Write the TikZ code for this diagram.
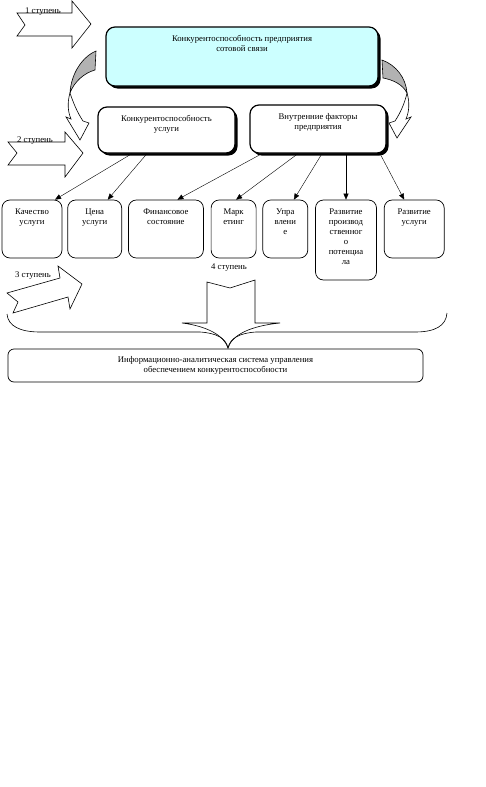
\documentclass[tikz,border=0pt]{standalone}
\usepackage{fontspec}
\setmainfont{Liberation Serif}
\usetikzlibrary{positioning, arrows.meta, shadows}

\definecolor{firmcyan}{HTML}{CCFFFF}

\begin{document}
\begin{tikzpicture}[
        x=1pt, y=-1pt,
        >={Triangle[length=6pt, width=5pt]},
        every node/.style={font=\fontsize{8.7}{10}\selectfont},
        boxtext/.style={align=center, anchor=north, inner sep=0pt, yshift=-9pt},
        mainnode/.style={draw, very thick, rounded corners=9pt, fill=white,
                drop shadow={shadow xshift=2.5pt, shadow yshift=-2.5pt, fill=black, opacity=1}},
        factornode/.style={draw, line width=0.7pt, rounded corners=8pt, fill=white, minimum height=58pt},
        stagearrow/.style={draw, line width=0.6pt, fill=white},
]
        \useasboundingbox (0,0) rectangle (486,787);

        % stage arrows
        \draw[stagearrow] (17,13) -- (72,13) -- (72,1) -- (91,24) -- (72,48) -- (72,36) -- (17,36) -- (25,25) -- cycle;
        \draw[stagearrow] (8,142) -- (65,142) -- (65,132) -- (83,153) -- (65,177) -- (65,165) -- (8,165) -- (17,153) -- cycle;
        \draw[stagearrow] (7,293) -- (60,278) -- (58,266) -- (82,284) -- (70,309) -- (68,297) -- (13,313) -- (18,302) -- cycle;
        \node (stageone) at (43,12) {1 ступень};
        \node (stagetwo) at (35,141) {2 ступень};
        \node (stagethree) at (33,276) {3 ступень};
        \node (stagefour) at (229,268) {4 ступень};

        % level 1 and 2
        \node[mainnode, fill=firmcyan, minimum width=272pt, minimum height=59pt,
                label={[boxtext]north:{Конкурентоспособность предприятия\\сотовой связи}}] (firm) at (242,56.5) {};
        \node[mainnode, minimum width=137pt, minimum height=46pt,
                label={[boxtext]north:{Конкурентоспособность\\услуги}}] (service) at (166.5,130) {};
        \node[mainnode, minimum width=136pt, minimum height=48pt,
                label={[boxtext]north:{Внутренние факторы\\предприятия}}] (internal) at (318,129) {};

        % curved arrows
        \draw[line width=0.6pt, fill=gray!60] (96,51) .. controls (82,57) and (71,74) .. (70,93) .. controls (74,82) and (84,73) .. (95,70) -- cycle;
        \draw[line width=0.6pt, fill=white] (70,93) .. controls (67,103) and (68,112) .. (71,119) -- (66,117) -- (80,140) -- (89,123) -- (83,121) .. controls (77,112) and (73,102) .. (70,93) -- cycle;
        \draw[line width=0.6pt, fill=gray!60] (382,60) .. controls (396,65) and (406,78) .. (407,93) .. controls (403,85) and (394,80) .. (383,78) -- cycle;
        \draw[line width=0.6pt, fill=white] (407,93) .. controls (410,103) and (409,112) .. (406,119) -- (411,117) -- (397,138) -- (389,123) -- (395,121) .. controls (401,112) and (405,102) .. (407,93) -- cycle;

        % level 3
        \node[factornode, minimum width=60pt, label={[boxtext]north:{Качество\\услуги}}] (quality) at (32,229) {};
        \node[factornode, minimum width=54pt, right=5pt of quality, label={[boxtext]north:{Цена\\услуги}}] (price) {};
        \node[factornode, minimum width=75pt, right=6pt of price, label={[boxtext]north:{Финансовое\\состояние}}] (finance) {};
        \node[factornode, minimum width=45pt, right=7pt of finance, label={[boxtext]north:{Марк\\етинг}}] (marketing) {};
        \node[factornode, minimum width=45pt, right=6pt of marketing, label={[boxtext]north:{Упра\\влени\\е}}] (management) {};
        \node[factornode, minimum width=61pt, minimum height=80pt, right=7pt of management.north east, anchor=north west,
                label={[boxtext]north:{Развитие\\производ\\ственног\\о\\потенциа\\ла}}] (production) {};
        \node[factornode, minimum width=60pt, right=7pt of production.north east, anchor=north west,
                label={[boxtext]north:{Развитие\\услуги}}] (development) {};

        \draw[->] ([xshift=-34.5pt]service.south) -- ([xshift=23pt]quality.north);
        \draw[->] ([xshift=-19.5pt]service.south) -- ([xshift=13pt]price.north);
        \draw[->] ([xshift=-56pt]internal.south) -- ([xshift=11.5pt]finance.north);
        \draw[->] ([xshift=-20pt]internal.south) -- ([xshift=2.5pt]marketing.north);
        \draw[->] ([xshift=4pt]internal.south) -- ([xshift=8.5pt]management.north);
        \draw[->] (internal.south -| production.north) -- (production.north);
        \draw[->] ([xshift=62pt]internal.south) -- ([xshift=-10pt]development.north);

        % brace and level 4
        \draw[line width=0.6pt] (7,314) .. controls (8,326) and (20,332) .. (40,332) -- (200,332) .. controls (216,333) and (226,338) .. (228,348)
                .. controls (230,338) and (240,333) .. (256,332) -- (415,332) .. controls (435,332) and (446,326) .. (447,313);
        \draw[line width=0.6pt] (207,282) -- (230,288) -- (255,280) -- (255,323) -- (280,323) .. controls (250,326) and (232,335) .. (228,348)
                .. controls (224,335) and (206,326) .. (182,323) -- (207,323) -- cycle;

        \node[draw, line width=0.7pt, rounded corners=6pt, minimum width=415pt, minimum height=33pt,
                label={[boxtext, yshift=1pt]north:{Информационно-аналитическая система управления\\обеспечением конкурентоспособности}}] (infosystem) at (215.5,365.5) {};
\end{tikzpicture}
\end{document}
